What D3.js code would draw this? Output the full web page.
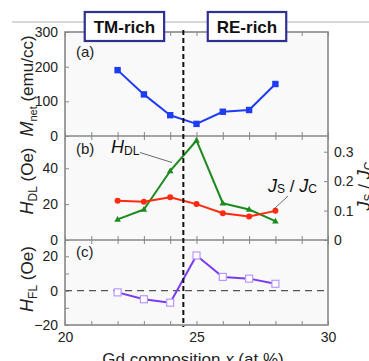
<!DOCTYPE html>
<html><head><meta charset="utf-8">
<script src="https://cdn.jsdelivr.net/npm/d3@7"></script>
<style>body{margin:0;background:#fff}svg{display:block;font-family:"Liberation Sans",Arial,sans-serif}</style>
</head><body><svg id="c" width="369" height="361"></svg>
<script>
const composition = [22,23,24,25,26,27,28];
const mNet = [190,120,60,35,70,75,150];
const hDL = [11.5,17,38.5,55.5,20.5,17,10.5];
const jsJc = [0.133,0.130,0.145,0.122,0.091,0.080,0.099];
const hFL = [-1,-5,-7,20.5,8,7,4];
const xTickLabels = [20,25,30];
const xMinorTicks = [20,21,22,23,24,25,26,27,28,29,30];
const mTicks = [0,100,200,300];
const hdlTicks = [0,20,40];
const jTicks = [0,0.1,0.2,0.3];
const hflTicks = [-20,0,20];
const hflMinorTicks = [-10,10];
const regionLabels = ["TM-rich","RE-rich"];
const regionCenters = [22.26,26.92];
const boundaryX = 24.5;

const svg = d3.select("#c");
const L = 65, R = 328;
const topA = 32, botA = 136, botB = 240, botC = 325;
const x = d3.scaleLinear().domain([20,30]).range([L,R]);
const yA = d3.scaleLinear().domain([0,300]).range([botA,topA]);
const yB = d3.scaleLinear().domain([0,58]).range([botB,botA]);
const yR = d3.scaleLinear().domain([0,0.3534]).range([botB,botA]);
const yC = d3.scaleLinear().domain([-20,29.5]).range([botC,botB]);

// top separator line
svg.append("line").attr("x1",12).attr("x2",369).attr("y1",22).attr("y2",22)
  .attr("stroke","#b0b0b0").attr("stroke-width",1);

// panel backgrounds
[[topA,botA],[botA,botB],[botB,botC]].forEach(([t,b])=>{
  svg.append("rect").attr("x",L).attr("y",t).attr("width",R-L).attr("height",b-t)
    .attr("fill","#f9f9f9");
});

function styleAxis(g){
  g.select(".domain").remove();
  g.selectAll(".tick line").attr("stroke","#888").attr("stroke-width",1);
  g.selectAll(".tick text").attr("fill","#222").style("font-size","14px")
   .style("font-family","'Liberation Sans',Arial,sans-serif");
}

// x ticks on each panel (top & bottom, inward)
[[topA,botA],[botA,botB],[botB,botC]].forEach(([t,b],i)=>{
  svg.append("g").attr("transform",`translate(0,${b})`)
    .call(d3.axisBottom(x).tickValues(xMinorTicks).tickSize(-4).tickFormat(""))
    .call(styleAxis);
  svg.append("g").attr("transform",`translate(0,${t})`)
    .call(d3.axisTop(x).tickValues(xMinorTicks).tickSize(-4).tickFormat(""))
    .call(styleAxis);
});
// x labels
svg.append("g").attr("transform",`translate(0,${botC})`)
  .call(d3.axisBottom(x).tickValues(xTickLabels).tickSize(0).tickPadding(7).tickFormat(d3.format("d")))
  .call(styleAxis);

// y axes
svg.append("g").attr("transform",`translate(${L},0)`)
  .call(d3.axisLeft(yA).tickValues(mTicks).tickSize(-4).tickPadding(7))
  .call(styleAxis);
svg.append("g").attr("transform",`translate(${L},0)`)
  .call(d3.axisLeft(yB).tickValues(hdlTicks).tickSize(-4).tickPadding(7))
  .call(styleAxis);
svg.append("g").attr("transform",`translate(${R},0)`)
  .call(d3.axisRight(yR).tickValues(jTicks).tickSize(-4).tickPadding(6).tickFormat(d=>d===0?"0":d3.format(".1f")(d)))
  .call(styleAxis);
svg.append("g").attr("transform",`translate(${L},0)`)
  .call(d3.axisLeft(yC).tickValues(hflTicks).tickSize(-4).tickPadding(7))
  .call(styleAxis);
svg.append("g").attr("transform",`translate(${L},0)`)
  .call(d3.axisLeft(yC).tickValues(hflMinorTicks).tickSize(-4).tickFormat(""))
  .call(styleAxis);

// zero dashed line panel c
svg.append("line").attr("x1",L).attr("x2",R).attr("y1",yC(0)).attr("y2",yC(0))
  .attr("stroke","#555").attr("stroke-width",1.2).attr("stroke-dasharray","7,5");

// frames
svg.append("rect").attr("x",L).attr("y",topA).attr("width",R-L).attr("height",botC-topA)
  .attr("fill","none").attr("stroke","#888").attr("stroke-width",1.6);
[botA,botB].forEach(yy=>svg.append("line").attr("x1",L).attr("x2",R).attr("y1",yy).attr("y2",yy)
  .attr("stroke","#888").attr("stroke-width",1.6));

// series
const pts = (ys,ysc)=>composition.map((c,i)=>[x(c),ysc(ys[i])]);
const line = d3.line();
function series(ys, ysc, color, w){
  svg.append("path").attr("d",line(pts(ys,ysc))).attr("fill","none")
    .attr("stroke",color).attr("stroke-width",w).attr("stroke-linejoin","round");
}
series(hDL,yB,"#1c8a1c",2);
series(jsJc,yR,"#ff2a10",2);
series(mNet,yA,"#1f3cf5",2);
series(hFL,yC,"#7a3cf0",2);

// markers
svg.append("g").selectAll("rect").data(pts(mNet,yA)).join("rect")
  .attr("x",d=>d[0]-3.2).attr("y",d=>d[1]-3.2).attr("width",6.4).attr("height",6.4).attr("fill","#1f3cf5");
svg.append("g").selectAll("path").data(pts(hDL,yB)).join("path")
  .attr("d",d=>`M${d[0]},${d[1]-3.5}L${d[0]+3.3},${d[1]+2.3}L${d[0]-3.3},${d[1]+2.3}Z`).attr("fill","#1c8a1c");
svg.append("g").selectAll("circle").data(pts(jsJc,yR)).join("circle")
  .attr("cx",d=>d[0]).attr("cy",d=>d[1]).attr("r",3).attr("fill","#ff2a10");
svg.append("g").selectAll("rect").data(pts(hFL,yC)).join("rect")
  .attr("x",d=>d[0]-3.5).attr("y",d=>d[1]-3.5).attr("width",7).attr("height",7)
  .attr("fill","#fff").attr("stroke","#b898ff").attr("stroke-width",1.2);

// boundary dashed line
svg.append("line").attr("x1",x(boundaryX)).attr("x2",x(boundaryX)).attr("y1",30).attr("y2",botC+2)
  .attr("stroke","#111").attr("stroke-width",2).attr("stroke-dasharray","5,3");

// region boxes
regionLabels.forEach((t,i)=>{
  const cx = x(regionCenters[i]);
  const g = svg.append("g");
  const txt = g.append("text").attr("x",cx).attr("y",33).attr("text-anchor","middle")
    .style("font-weight","bold").style("font-size","17px").attr("fill","#111").text(t);
  const w = txt.node().getComputedTextLength();
  g.insert("rect","text").attr("x",cx-w/2-9).attr("y",12).attr("width",w+18).attr("height",29)
    .attr("fill","#fff").attr("stroke","#2e3192").attr("stroke-width",2.2);
});

// panel labels
[["(a)",57],["(b)",154],["(c)",257]].forEach(([t,yy])=>{
  svg.append("text").attr("x",76).attr("y",yy).style("font-size","15px").attr("fill","#222").text(t);
});

// rich text helper
function rich(sel, parts){
  parts.forEach(p=>{
    const ts = sel.append("tspan").text(p.t).style("font-size",(p.s||17)+"px");
    if(p.i) ts.style("font-style","italic");
    if(p.dy) ts.attr("dy",p.dy);
  });
}

// axis titles
rich(svg.append("text").attr("transform","translate(33,86) rotate(-90)").attr("text-anchor","middle").attr("fill","#222"),
  [{t:"M",i:1,s:18},{t:"net",s:11,dy:4},{t:" (emu/cc)",s:17,dy:-4}]);
rich(svg.append("text").attr("transform","translate(33,181) rotate(-90)").attr("text-anchor","middle").attr("fill","#222"),
  [{t:"H",i:1,s:18},{t:"DL",s:12,dy:4},{t:" (Oe)",s:17,dy:-4}]);
rich(svg.append("text").attr("transform","translate(33,279) rotate(-90)").attr("text-anchor","middle").attr("fill","#222"),
  [{t:"H",i:1,s:18},{t:"FL",s:12,dy:4},{t:" (Oe)",s:17,dy:-4}]);
rich(svg.append("text").attr("transform","translate(370,186) rotate(-90)").attr("text-anchor","middle").attr("fill","#222"),
  [{t:"J",i:1,s:18},{t:"S",s:12,dy:3},{t:" / ",s:17,dy:-3},{t:"J",i:1,s:18},{t:"C",s:12,dy:3}]);
rich(svg.append("text").attr("x",193).attr("y",365).attr("text-anchor","middle").attr("fill","#222"),
  [{t:"Gd composition ",s:17},{t:"x",i:1,s:17},{t:" (at.%)",s:17}]);

// annotations
rich(svg.append("text").attr("x",111).attr("y",153).attr("fill","#111"),
  [{t:"H",i:1,s:18},{t:"DL",s:12,dy:2}]);
svg.append("line").attr("x1",140).attr("y1",152.5).attr("x2",172).attr("y2",162.5)
  .attr("stroke","#444").attr("stroke-width",0.8);
rich(svg.append("text").attr("x",268).attr("y",192).attr("fill","#111"),
  [{t:"J",i:1,s:18},{t:"S",s:12,dy:1},{t:" / ",s:17,dy:-1},{t:"J",i:1,s:18},{t:"C",s:12,dy:1}]);
svg.append("line").attr("x1",288).attr("y1",196).attr("x2",274).attr("y2",209)
  .attr("stroke","#444").attr("stroke-width",0.8);
</script></body></html>
